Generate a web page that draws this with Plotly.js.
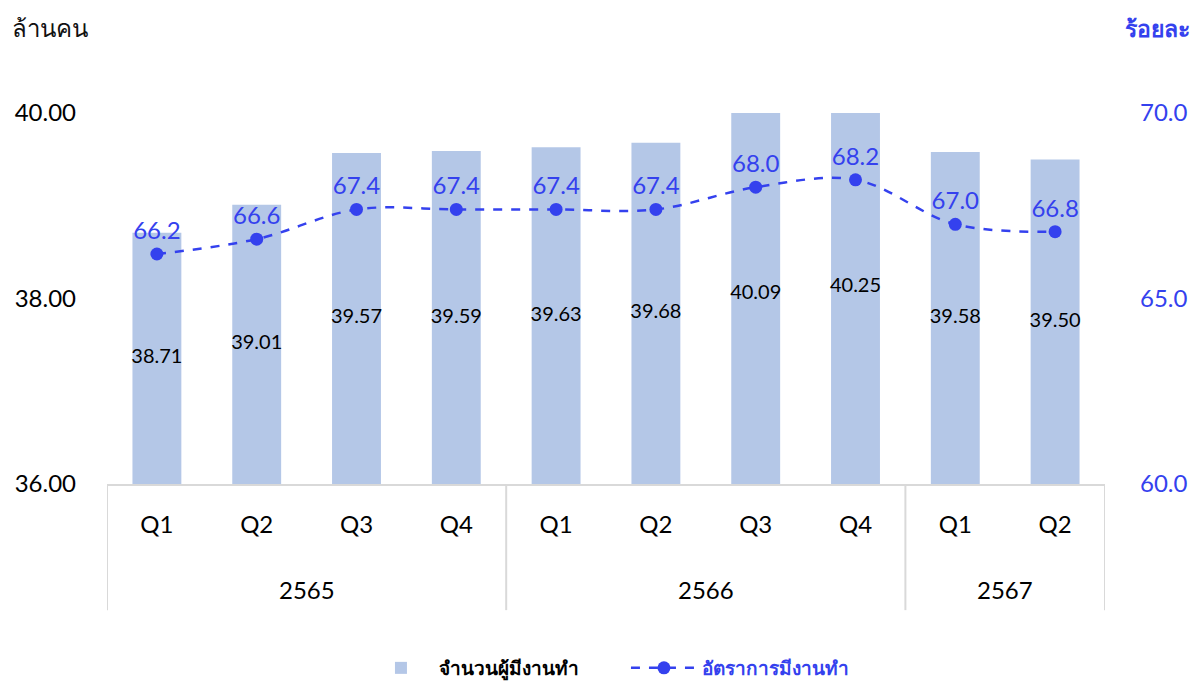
<!DOCTYPE html>
<html>
<head>
<meta charset="utf-8">
<script src="https://cdn.plot.ly/plotly-3.0.1.min.js"></script>
<style>html,body{margin:0;padding:0;background:#fff;}#chart{width:1200px;height:682px;}</style>
</head>
<body>
<div id="chart"></div>
<script>
const years = ["2565","2565","2565","2565","2566","2566","2566","2566","2567","2567"];
const quarters = ["Q1","Q2","Q3","Q4","Q1","Q2","Q3","Q4","Q1","Q2"];
const employed = [38.71, 39.01, 39.57, 39.59, 39.63, 39.68, 40.09, 40.25, 39.58, 39.50];
const employmentRate = [66.2, 66.6, 67.4, 67.4, 67.4, 67.4, 68.0, 68.2, 67.0, 66.8];
const barName = "จำนวนผู้มีงานทำ";
const lineName = "อัตราการมีงานทำ";
const leftTitle = "ล้านคน";
const rightTitle = "ร้อยละ";

const BLUE = "#3441ee";
const BAR = "#b4c7e7";
const GRID = "#d9d9d9";
const FONT = "Lato, 'Noto Sans', 'Liberation Sans', sans-serif";
const yMin = 36, yMax = 40;

// unique category keys built from the two label rows
const keys = years.map((y, i) => y + " " + quarters[i]);

// year groups: first/last index of each year
const groups = [];
years.forEach((y, i) => {
  const g = groups[groups.length - 1];
  if (g && g.year === y) g.end = i; else groups.push({year: y, start: i, end: i});
});

const traces = [
  {
    type: "bar", x: keys, y: employed, name: "<b>" + barName + "</b>",
    marker: {color: BAR}, hoverinfo: "skip", cliponaxis: true
  },
  {
    type: "scatter", mode: "text", x: keys,
    y: employed.map(v => (yMin + v) / 2),
    text: employed.map(v => v.toFixed(2)),
    textfont: {family: FONT, size: 20, color: "#000"},
    showlegend: false, hoverinfo: "skip", cliponaxis: false
  },
  {
    type: "scatter", mode: "lines+markers+text", x: keys, y: employmentRate,
    yaxis: "y2", name: "<span style='color:" + BLUE + "'><b>" + lineName + "</b></span>",
    line: {color: BLUE, width: 2.5, dash: "dash", shape: "spline", smoothing: 1},
    marker: {color: BLUE, size: 13},
    text: employmentRate.map(v => v.toFixed(1)),
    textposition: "top center",
    textfont: {family: FONT, size: 24, color: BLUE},
    cliponaxis: false
  }
];

const annotations = [
  {xref: "paper", yref: "paper", x: -0.097, y: 1.23, xanchor: "left", yanchor: "middle",
   text: leftTitle, showarrow: false, font: {family: FONT, size: 24, color: "#111"}},
  {xref: "paper", yref: "paper", x: 1.0875, y: 1.23, xanchor: "right", yanchor: "middle",
   text: "<b>" + rightTitle + "</b>", showarrow: false, font: {family: FONT, size: 23, color: BLUE}}
].concat(groups.map(g => ({
  xref: "x", yref: "paper", x: (g.start + g.end) / 2, y: -0.2857,
  xanchor: "center", yanchor: "middle", text: g.year, showarrow: false,
  font: {family: FONT, size: 24, color: "#000"}
})));

const dividerPos = groups.map(g => g.start - 0.5).concat([groups[groups.length - 1].end + 0.5]);
const shapes = dividerPos.map(p => ({
  type: "line", xref: "x", yref: "paper", x0: p, x1: p, y0: 0, y1: -0.34,
  line: {color: GRID, width: 2}
}));

const layout = {
  width: 1200, height: 682,
  margin: {l: 107, r: 95, t: 113, b: 198, autoexpand: false},
  paper_bgcolor: "#fff", plot_bgcolor: "#fff",
  font: {family: FONT, size: 24, color: "#000"},
  bargap: 0.51,
  showlegend: true,
  legend: {
    orientation: "h", x: 0.52, xanchor: "center", y: -0.496, yanchor: "middle",
    font: {family: FONT, size: 19, color: "#000"},
    itemwidth: 66, traceorder: "normal", entrywidth: 182, entrywidthmode: "pixels"
  },
  xaxis: {
    type: "category", range: [-0.5, keys.length - 0.5],
    tickvals: keys, ticktext: quarters,
    showline: true, linecolor: GRID, linewidth: 2,
    ticks: "", tickfont: {family: FONT, size: 24, color: "#000"},
    ticklabelstandoff: 18,
    showgrid: false, zeroline: false, fixedrange: true, automargin: false
  },
  yaxis: {
    range: [yMin, yMax], tickvals: [36, 38, 40], ticktext: ["36.00","38.00","40.00"],
    showgrid: false, zeroline: false, showline: false,
    tickfont: {family: FONT, size: 24, color: "#000"},
    ticklabelstandoff: 30, fixedrange: true, automargin: false
  },
  yaxis2: {
    overlaying: "y", side: "right",
    range: [60, 70], tickvals: [60, 65, 70], ticktext: ["60.0","65.0","70.0"],
    showgrid: false, zeroline: false, showline: false,
    tickfont: {family: FONT, size: 24, color: BLUE},
    ticklabelstandoff: 34, fixedrange: true, automargin: false
  },
  annotations: annotations,
  shapes: shapes
};

Plotly.newPlot("chart", traces, layout, {displayModeBar: false, staticPlot: true});
</script>
</body>
</html>
